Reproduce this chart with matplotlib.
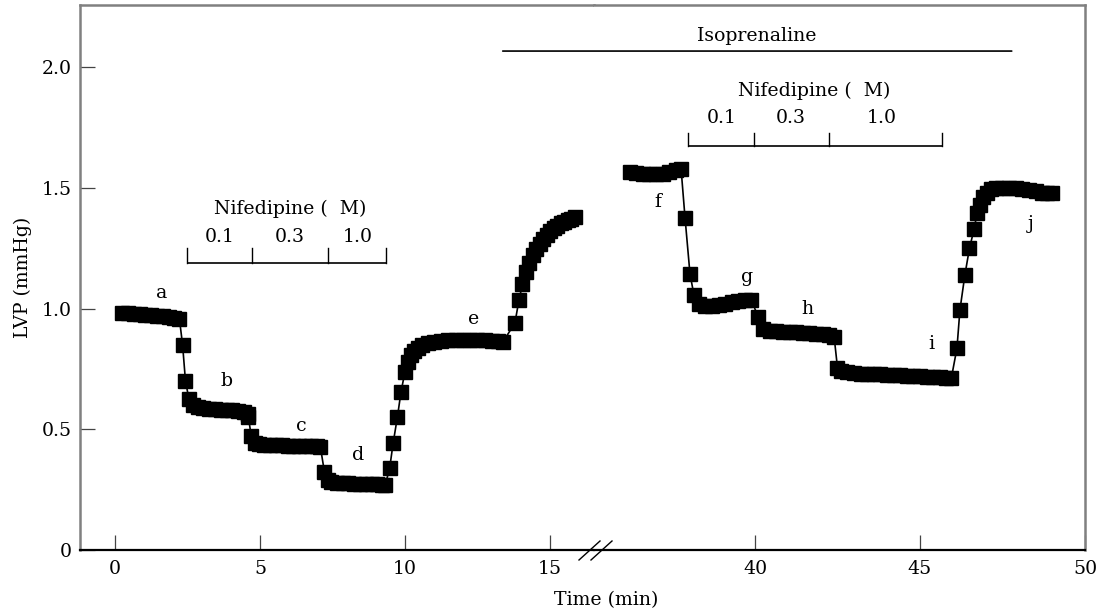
import matplotlib
matplotlib.use('Agg')
import matplotlib.pyplot as plt
from matplotlib.patches import ConnectionPatch
from matplotlib.lines import Line2D

plt.rcParams['font.family'] = ['DejaVu Serif']

# ---------------- data ----------------
# left segment, time in min
t_left = [0.25, 0.45, 0.65, 0.85, 1.05, 1.25, 1.45, 1.65, 1.85, 2.05, 2.22,
          2.33, 2.43, 2.55,
          2.68, 2.85, 3.05, 3.25, 3.45, 3.65, 3.85, 4.05, 4.25, 4.45, 4.58,
          4.60, 4.70, 4.82,
          4.95, 5.15, 5.35, 5.55, 5.75, 5.95, 6.15, 6.35, 6.55, 6.75, 6.95, 7.08,
          7.22, 7.33,
          7.45, 7.65, 7.85, 8.05, 8.25, 8.45, 8.65, 8.85, 9.05, 9.20, 9.32,
          9.47, 9.59, 9.74, 9.86, 10.00, 10.09, 10.20, 10.32, 10.45, 10.60, 10.80,
          11.00, 11.25, 11.50, 11.75, 12.00, 12.25, 12.50, 12.75, 13.00, 13.20, 13.38,
          13.79, 13.93, 14.05, 14.17, 14.29, 14.41, 14.53, 14.65, 14.77, 14.89,
          15.01, 15.13, 15.25, 15.37, 15.49, 15.61, 15.73, 15.85]
lvp_left = [0.981, 0.980, 0.979, 0.977, 0.975, 0.973, 0.970, 0.967, 0.964, 0.961, 0.958,
            0.850, 0.700, 0.625,
            0.600, 0.592, 0.587, 0.584, 0.582, 0.580, 0.579, 0.578, 0.576, 0.572, 0.565,
            0.550, 0.470, 0.445,
            0.440, 0.436, 0.434, 0.433, 0.433, 0.432, 0.432, 0.432, 0.431, 0.430, 0.429, 0.428,
            0.325, 0.290,
            0.283, 0.279, 0.277, 0.276, 0.275, 0.275, 0.274, 0.273, 0.272, 0.271, 0.270,
            0.338, 0.442, 0.552, 0.653, 0.739, 0.780, 0.808, 0.825, 0.838, 0.848, 0.856,
            0.861, 0.865, 0.868, 0.870, 0.871, 0.871, 0.870, 0.868, 0.866, 0.864, 0.862,
            0.940, 1.035, 1.100, 1.150, 1.190, 1.220, 1.245, 1.267, 1.287, 1.304,
            1.319, 1.332, 1.343, 1.352, 1.360, 1.366, 1.372, 1.377]

# right segment (after the axis break)
t_right = [36.20, 36.40, 36.60, 36.80, 37.00, 37.20, 37.40, 37.60, 37.76,
           37.88, 38.03, 38.15,
           38.30, 38.50, 38.70, 38.90, 39.10, 39.30, 39.50, 39.70, 39.88,
           40.10,
           40.25, 40.45, 40.65, 40.85, 41.05, 41.25, 41.45, 41.65, 41.85, 42.05, 42.25, 42.40,
           42.50,
           42.62, 42.80, 43.00, 43.20, 43.40, 43.60, 43.80, 44.00, 44.20, 44.40, 44.60,
           44.80, 45.00, 45.20, 45.40, 45.60, 45.80, 45.95,
           46.12, 46.21, 46.36, 46.50, 46.64, 46.73, 46.82, 46.92, 47.03, 47.15, 47.30,
           47.50, 47.70, 47.90, 48.10, 48.30, 48.50, 48.70, 48.85, 49.00]
lvp_right = [1.565, 1.561, 1.557, 1.555, 1.555, 1.559, 1.565, 1.572, 1.578,
             1.375, 1.143, 1.056,
             1.020, 1.012, 1.012, 1.015, 1.020, 1.025, 1.030, 1.035, 1.037,
             0.965,
             0.915, 0.908, 0.905, 0.904, 0.903, 0.902, 0.900, 0.898, 0.896, 0.894, 0.891, 0.880,
             0.754,
             0.742, 0.735, 0.732, 0.730, 0.730, 0.728, 0.727, 0.726, 0.725, 0.723, 0.722,
             0.720, 0.719, 0.717, 0.716, 0.715, 0.713, 0.712,
             0.836, 0.994, 1.139, 1.250, 1.329, 1.395, 1.430, 1.460, 1.480, 1.493, 1.498,
             1.500, 1.499, 1.497, 1.495, 1.490, 1.485, 1.480, 1.478, 1.477]

# point labels
lab_left = ['a', 'b', 'c', 'd', 'e']
lab_left_t = [1.62, 3.86, 6.41, 8.39, 12.38]
lab_left_v = [1.064, 0.700, 0.515, 0.394, 0.957]
lab_right = ['f', 'g', 'h', 'i', 'j']
lab_right_t = [37.06, 39.76, 41.58, 45.33, 48.36]
lab_right_v = [1.440, 1.130, 0.998, 0.855, 1.350]

# drug periods
nif_left_edges = [2.47, 4.71, 7.36, 9.33]
nif_right_edges = [37.97, 39.97, 42.24, 45.67]
nif_doses = ['0.1', '0.3', '1.0']
nif_left_dose_t = [3.62, 6.01, 8.36]
nif_right_dose_t = [39.00, 41.09, 43.84]
iso_start, iso_end = 13.37, 47.78

xticks_left = [0, 5, 10, 15]
xticks_right = [40, 45, 50]
yticks = [0, 0.5, 1.0, 1.5, 2.0]
ytick_labels = ['0', '0.5', '1.0', '1.5', '2.0']

# ---------------- figure ----------------
W, H = 1108, 615
FS = 13.6
fig = plt.figure(figsize=(W / 100, H / 100), dpi=100)


def frac(x0, y0, x1, y1):
    return [x0 / W, 1 - y1 / H, (x1 - x0) / W, (y1 - y0) / H]


ax1 = fig.add_axes(frac(80, 5, 594, 550))
ax2 = fig.add_axes(frac(594, 5, 1085, 550))

ymax = 545 / 241.5
ax1.set_xlim(-35 / 29.0, 479 / 29.0)
ax2.set_xlim(40 - 161 / 33.0, 50)
for ax in (ax1, ax2):
    ax.set_ylim(0, ymax)

grey = '#808080'
for ax in (ax1, ax2):
    for s in ('left', 'top', 'right'):
        ax.spines[s].set_color(grey)
        ax.spines[s].set_linewidth(1.8)
        ax.spines[s].set_capstyle('projecting')
    ax.spines['bottom'].set_color('black')
    ax.spines['bottom'].set_linewidth(1.6)
ax1.spines['right'].set_visible(False)
ax2.spines['left'].set_visible(False)

tk = dict(direction='in', length=11, width=0.9, color='#444444', labelsize=FS,
          labelcolor='black')
ax1.tick_params(axis='both', **tk)
ax2.tick_params(axis='x', **tk)
ax1.tick_params(axis='y', pad=6)
ax1.tick_params(axis='x', pad=7)
ax2.tick_params(axis='x', pad=7)
ax2.tick_params(axis='y', left=False, labelleft=False)

ax1.set_xticks(xticks_left)
ax1.set_xticklabels([str(v) for v in xticks_left])
ax2.set_xticks(xticks_right)
ax2.set_xticklabels([str(v) for v in xticks_right])
ax1.set_yticks(yticks)
ax1.set_yticklabels(ytick_labels)

style = dict(color='black', lw=1.2, marker='s', ms=9.5, mfc='black', mec='black')
ax1.plot(t_left, lvp_left, **style)
ax2.plot(t_right, lvp_right, **style)

for ax, labs, ts, vs in ((ax1, lab_left, lab_left_t, lab_left_v),
                         (ax2, lab_right, lab_right_t, lab_right_v)):
    for s, t, v in zip(labs, ts, vs):
        ax.text(t, v, s, ha='center', va='center', fontsize=FS)


def bracket(ax, edges, doses, dose_t, y_line, y_top, y_dose, y_title, t_title):
    ax.plot([edges[0], edges[-1]], [y_line, y_line], color='black', lw=1.2,
            solid_capstyle='butt')
    for e in edges:
        ax.plot([e, e], [y_line, y_top], color='black', lw=1.0)
    for s, t in zip(doses, dose_t):
        ax.text(t, y_dose, s, ha='center', va='center', fontsize=FS)
    ax.text(t_title, y_title, 'Nifedipine (  M)', ha='center', va='center', fontsize=FS)


bracket(ax1, nif_left_edges, nif_doses, nif_left_dose_t, 1.187, 1.249, 1.297, 1.412, 6.03)
bracket(ax2, nif_right_edges, nif_doses, nif_right_dose_t, 1.673, 1.727, 1.790, 1.900, 41.79)

con = ConnectionPatch(xyA=(iso_start, 2.066), coordsA=ax1.transData,
                      xyB=(iso_end, 2.066), coordsB=ax2.transData,
                      color='black', lw=1.2)
fig.add_artist(con)
ax2.text(40.06, 2.13, 'Isoprenaline', ha='center', va='center', fontsize=FS)

# axis break marks
for x0 in (579, 591):
    fig.add_artist(Line2D([x0 / W, (x0 + 21) / W], [1 - 560 / H, 1 - 541 / H],
                          color='black', lw=1.0))

fig.text(23 / W, 1 - 277 / H, 'LVP (mmHg)', rotation=90, ha='center', va='center',
         fontsize=FS)
fig.text(606 / W, 1 - 600 / H, 'Time (min)', ha='center', va='center', fontsize=FS)

fig.savefig('out.png', dpi=100)
